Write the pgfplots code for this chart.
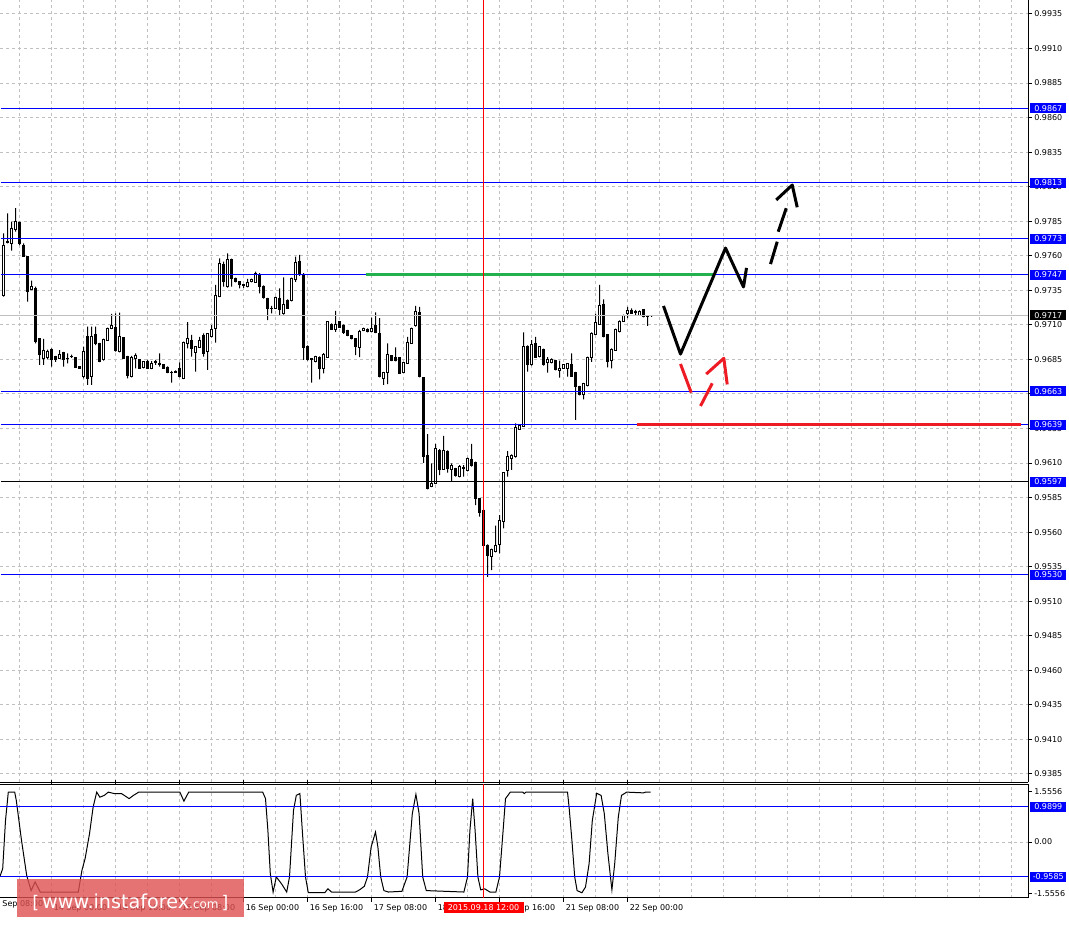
\documentclass[border=0pt]{standalone}
\usepackage{fontspec}
\setmainfont{DejaVu Sans}
\usepackage{pgfplots}
\usepackage{pgfplotstable}
\pgfplotsset{compat=1.18}

\definecolor{mtblue}{RGB}{0,0,255}
\definecolor{mtgrid}{RGB}{192,192,192}
\definecolor{mtred}{RGB}{237,28,36}
\definecolor{mtgreen}{RGB}{34,177,76}
\definecolor{wmred}{RGB}{222,80,80}

% hourly candles, i = bar number from 14 Sep 00:00
\pgfplotstableread{
i O H L C
-12 .97309 .97763 .97304 .97678
-11 .97700 .97907 .97690 .97698
-10 .97690 .97847 .97637 .97799
-9 .97787 .97944 .97774 .97847
-8 .97839 .97847 .97678 .97690
-7 .97678 .97690 .97594 .97598
-6 .97594 .97594 .97268 .97340
-5 .97357 .97420 .97352 .97376
-4 .97364 .97376 .96967 .96978
-3 .96998 .97005 .96810 .96889
-2 .96858 .96998 .96810 .96913
-1 .96862 .96920 .96850 .96909
0 .96923 .96930 .96797 .96851
1 .96870 .96875 .96833 .96846
2 .96858 .96918 .96855 .96889
3 .96901 .96905 .96797 .96846
4 .96860 .96894 .96822 .96856
5 .96872 .96885 .96862 .96868
6 .96862 .96866 .96788 .96793
7 .96797 .96800 .96782 .96786
8 .96725 .96942 .96713 .96906
9 .97014 .97087 .96665 .96713
10 .96725 .97087 .96665 .97014
11 .97027 .97087 .96954 .96967
12 .96967 .96970 .96830 .96833
13 .96846 .97000 .96841 .96996
14 .96990 .97080 .96985 .97075
15 .97075 .97179 .97070 .97092
16 .97080 .97184 .96906 .96913
17 .96906 .97188 .96901 .97014
18 .97007 .97012 .96855 .96858
19 .96870 .96875 .96713 .96732
20 .96725 .96875 .96720 .96862
21 .96858 .96894 .96786 .96875
22 .96846 .96850 .96782 .96786
23 .96790 .96838 .96785 .96833
24 .96838 .96846 .96782 .96786
25 .96786 .96838 .96780 .96817
26 .96830 .96846 .96810 .96834
27 .96817 .96894 .96797 .96813
28 .96810 .96815 .96782 .96786
29 .96790 .96800 .96750 .96754
30 .96756 .96768 .96682 .96752
31 .96757 .96770 .96752 .96766
32 .96781 .96829 .96720 .96725
33 .96713 .96978 .96708 .96974
34 .96967 .97119 .96930 .96998
35 .96990 .97027 .96870 .96930
36 .96899 .96945 .96761 .96942
37 .96938 .97014 .96935 .96990
38 .97022 .97039 .96870 .96894
39 .96906 .97040 .96774 .97034
40 .97014 .97099 .97010 .97068
41 .97075 .97389 .96971 .97311
42 .97304 .97582 .97300 .97546
43 .97540 .97557 .97376 .97412
44 .97376 .97618 .97370 .97574
45 .97574 .97580 .97376 .97437
46 .97437 .97442 .97408 .97412
47 .97412 .97416 .97364 .97389
48 .97390 .97395 .97368 .97388
49 .97376 .97432 .97372 .97405
50 .97412 .97435 .97408 .97430
51 .97410 .97485 .97405 .97475
52 .97468 .97475 .97328 .97381
53 .97381 .97385 .97290 .97296
54 .97292 .97296 .97135 .97220
55 .97222 .97237 .97184 .97218
56 .97220 .97305 .97215 .97299
57 .97292 .97364 .97171 .97213
58 .97179 .97444 .97175 .97251
59 .97280 .97285 .97215 .97220
60 .97275 .97442 .97270 .97437
61 .97430 .97594 .97412 .97550
62 .97562 .97606 .97455 .97461
63 .97468 .97475 .96846 .96938
64 .96947 .96952 .96841 .96853
65 .96855 .96860 .96682 .96852
66 .96833 .96875 .96828 .96870
67 .96867 .96872 .96706 .96781
68 .96786 .96895 .96749 .96887
69 .96867 .97125 .96862 .97121
70 .97106 .97110 .97063 .97068
71 .97063 .97202 .97050 .97106
72 .97123 .97128 .97078 .97082
73 .97099 .97104 .97034 .97043
74 .97058 .97063 .97018 .97022
75 .97022 .97026 .96995 .96998
76 .96998 .97002 .96882 .96942
77 .96938 .97063 .96867 .97050
78 .97058 .97080 .97055 .97075
79 .97070 .97075 .97045 .97050
80 .97050 .97152 .97045 .97075
81 .97092 .97191 .97040 .97043
82 .97039 .97148 .96720 .96725
83 .96713 .96760 .96665 .96754
84 .96754 .96967 .96672 .96887
85 .96875 .96880 .96838 .96841
86 .96862 .96938 .96836 .96841
87 .96862 .96866 .96745 .96749
88 .96754 .96830 .96750 .96826
89 .96822 .97014 .96818 .96974
90 .96967 .97080 .96962 .97075
91 .97092 .97237 .97088 .97200
92 .97188 .97231 .96720 .96725
93 .96718 .96722 .96102 .96146
94 .96158 .96310 .95910 .95917
95 .95929 .96098 .95925 .95953
96 .95953 .96238 .95948 .96207
97 .96194 .96200 .96013 .96055
98 .96055 .96296 .96050 .96194
99 .96187 .96192 .96030 .96062
100 .96050 .96098 .95970 .96079
101 .96062 .96066 .96001 .96013
102 .96001 .96086 .95997 .96074
103 .96065 .96086 .96001 .96060
104 .96045 .96140 .96040 .96134
105 .96127 .96238 .96075 .96079
106 .96102 .96110 .95796 .95845
107 .95840 .95845 .95712 .95744
108 .95760 .95765 .95500 .95507
109 .95507 .95512 .95277 .95429
110 .95422 .95480 .95326 .95476
111 .95458 .95647 .95454 .95507
112 .95514 .95724 .95447 .95688
113 .95676 .96035 .95628 .96030
114 .96045 .96187 .96001 .96151
115 .96134 .96162 .96050 .96158
116 .96146 .96388 .96140 .96359
117 .96344 .96380 .96340 .96375
118 .96368 .97046 .96364 .96942
119 .96947 .96952 .96761 .96810
120 .96810 .96990 .96805 .96959
121 .96967 .97014 .96862 .96867
122 .96870 .96946 .96865 .96942
123 .96923 .96928 .96805 .96810
124 .96829 .96867 .96754 .96846
125 .96826 .96857 .96822 .96853
126 .96841 .96846 .96770 .96774
127 .96768 .96841 .96718 .96786
128 .96786 .96815 .96782 .96810
129 .96786 .96820 .96725 .96817
130 .96810 .96894 .96725 .96730
131 .96754 .96760 .96412 .96653
132 .96653 .96658 .96590 .96598
133 .96598 .96680 .96561 .96677
134 .96660 .96870 .96655 .96867
135 .96867 .97045 .96833 .97039
136 .97032 .97179 .97028 .97119
137 .97104 .97389 .97100 .97239
138 .97251 .97285 .97010 .97014
139 .97027 .97032 .96793 .96833
140 .96841 .96930 .96786 .96925
141 .96918 .97072 .96914 .97068
142 .97050 .97132 .97046 .97128
143 .97128 .97175 .97124 .97171
144 .97179 .97231 .97148 .97202
145 .97202 .97220 .97180 .97184
146 .97197 .97208 .97171 .97193
147 .97171 .97205 .97168 .97200
148 .97208 .97212 .97155 .97164
149 .97162 .97166 .97092 .97159
150 .97164 .97171 .97157 .97164
}\candles

\tikzset{
  lvl/.style={anchor=west, xshift=1.5pt, fill=mtblue, text=white,
    font=\fontsize{6}{7}\selectfont, minimum width=27pt,
    minimum height=7.5pt, inner sep=0pt},
  gridsty/.style={mtgrid, dash pattern=on 2.25pt off 2.25pt, line width=0.75pt},
  hline/.style={color=mtblue, line width=0.75pt},
}
\pgfplotsset{
  mainax/.style={scale only axis, width=771pt, height=586.5pt,
    xmin=-12.875, xmax=244.125, ymin=0.93792, ymax=0.99451,
    at={(0pt,108pt)}, anchor=south west},
  indax/.style={scale only axis, width=771pt, height=85.05pt,
    xmin=-12.875, xmax=244.125, ymin=-1.549, ymax=1.607,
    at={(0pt,21.2pt)}, anchor=south west},
}

\begin{document}
\begin{tikzpicture}
\useasboundingbox (0,0) rectangle (801.75pt,694.5pt);

% main panel: grid and price scale
\begin{axis}[mainax,
  axis x line*=bottom, axis y line*=right,
  axis line style={black, line width=0.75pt},
  xtick={-8,0,...,240}, xticklabels={}, xtick style={draw=none},
  ytick={0.9385,0.9410,0.9435,0.9460,0.9485,0.9510,0.9535,0.9560,0.9585,0.9610,0.9635,0.9660,0.9685,0.9710,0.9735,0.9760,0.9785,0.9810,0.9835,0.9860,0.9885,0.9910,0.9935},
  yticklabels={0.9385,0.9410,0.9435,0.9460,0.9485,0.9510,0.9535,0.9560,0.9585,0.9610,0.9635,0.9660,0.9685,0.9710,0.9735,0.9760,0.9785,0.9810,0.9835,0.9860,0.9885,0.9910,0.9935},
  yticklabel pos=right,
  yticklabel style={font=\fontsize{6}{7}\selectfont, anchor=west, inner sep=0pt, xshift=1.5pt},
  tick align=outside, major tick length=3pt,
  ytick style={black, line width=0.75pt},
  xmajorgrids, ymajorgrids, major grid style={gridsty},
]
\addplot[draw=none, mark=none] coordinates {(0,0.97)};
\end{axis}

% wicks: low to high
\begin{axis}[mainax, hide axis, ybar stacked, bar width=0.75pt]
\addplot[draw=none, fill=none] table[x=i, y=L] {\candles};
\addplot[draw=none, fill=black] table[x=i, y expr={\thisrow{H}-\thisrow{L}}] {\candles};
\end{axis}

% candle bodies
\begin{axis}[mainax, hide axis, ybar stacked, bar width=1.5pt]
\addplot[draw=none, fill=none] table[x=i, y expr={min(\thisrow{O},\thisrow{C})}] {\candles};
\addplot[draw=black, fill=white, line width=0.75pt] table[x=i, y expr={max(\thisrow{C}-\thisrow{O},0)}] {\candles};
\addplot[draw=black, fill=black, line width=0.75pt] table[x=i, y expr={max(\thisrow{O}-\thisrow{C},0)}] {\candles};
\end{axis}

% levels (at the pixel rows where they are drawn) and drawn arrows
\begin{axis}[mainax, hide axis, clip=false]
\addplot[color=mtgrid, line width=0.75pt] coordinates {(-12.875,0.97168) (244.125,0.97168)};
\addplot[hline] coordinates {(-12.6,0.98666) (244.125,0.98666)};
\addplot[hline] coordinates {(-12.6,0.98130) (244.125,0.98130)};
\addplot[hline] coordinates {(-12.6,0.97725) (244.125,0.97725)};
\addplot[hline] coordinates {(-12.6,0.97464) (244.125,0.97464)};
\addplot[hline] coordinates {(-12.6,0.96618) (244.125,0.96618)};
\addplot[hline] coordinates {(-12.6,0.96379) (244.125,0.96379)};
\addplot[hline] coordinates {(-12.6,0.95293) (244.125,0.95293)};
\addplot[color=black, line width=0.75pt] coordinates {(-12.6,0.95966) (244.125,0.95966)};
\addplot[color=mtgreen, line width=2.25pt] coordinates {(78.5,0.97464) (165.25,0.97464)};
\addplot[color=mtred, line width=2.25pt] coordinates {(146.25,0.96379) (242.25,0.96379)};
\addplot[color=red, line width=0.75pt] coordinates {(108,0.93792) (108,0.99451)};
% solid black path
\addplot[color=black, line width=2.25pt, line join=round] coordinates {(153,0.97237) (157.25,0.96889) (168.5,0.97656) (173,0.97374) (173.75,0.97512)};
% dashed black arrow
\addplot[color=black, line width=2.25pt] coordinates {(179.75,0.97540) (181.43,0.97702)};
\addplot[color=black, line width=2.25pt] coordinates {(181.68,0.97774) (183.68,0.97944)};
\addplot[color=black, line width=2.25pt, line join=round] coordinates {(181.18,0.98004) (185.18,0.98112) (186.43,0.97951)};
% dashed red arrow
\addplot[color=mtred, line width=2.25pt] coordinates {(157.25,0.96817) (159.93,0.96609)};
\addplot[color=mtred, line width=2.25pt] coordinates {(162.25,0.96513) (165.18,0.96677)};
\addplot[color=mtred, line width=2.25pt, line join=round] coordinates {(163.68,0.96744) (168.08,0.96858) (168.93,0.96669)};
% price labels
\node[lvl] at (axis cs:244.125,0.98666) {0.9867};
\node[lvl] at (axis cs:244.125,0.98130) {0.9813};
\node[lvl] at (axis cs:244.125,0.97725) {0.9773};
\node[lvl] at (axis cs:244.125,0.97464) {0.9747};
\node[lvl, fill=black] at (axis cs:244.125,0.97168) {0.9717};
\node[lvl] at (axis cs:244.125,0.96618) {0.9663};
\node[lvl] at (axis cs:244.125,0.96379) {0.9639};
\node[lvl] at (axis cs:244.125,0.95966) {0.9597};
\node[lvl] at (axis cs:244.125,0.95293) {0.9530};
\end{axis}

% indicator panel
\begin{axis}[indax, clip=false,
  axis x line*=box, axis y line*=right,
  axis line style={black, line width=0.75pt},
  xtick={0,16,...,144},
  xticklabels={14 Sep 00:00,14 Sep 16:00,15 Sep 08:00,16 Sep 00:00,16 Sep 16:00,17 Sep 08:00,18 Sep 00:00,18 Sep 16:00,21 Sep 08:00,22 Sep 00:00},
  minor xtick={-8,8,24,40,56,72,88,104,120,136,152,160,168,176,184,192,200,208,216,224,232,240},
  xticklabel style={font=\fontsize{6}{7}\selectfont, anchor=west, inner sep=0pt, xshift=1.5pt, yshift=-5.3pt},
  ytick={0}, yticklabels={0.00},
  extra y ticks={1.40,-1.426}, extra y tick labels={1.5556,-1.5556},
  extra y tick style={grid=none},
  yticklabel pos=right,
  yticklabel style={font=\fontsize{6}{7}\selectfont, anchor=west, inner sep=0pt, xshift=1.5pt},
  tick align=outside, major tick length=3pt, minor tick length=0pt,
  tick style={black, line width=0.75pt},
  xmajorgrids, xminorgrids, ymajorgrids,
  major grid style={gridsty}, minor grid style={gridsty},
]
\addplot[color=black, line width=0.75pt] coordinates {
(-12.875,-0.95) (-12.2,-0.74) (-11.5,0.6) (-10.8,1.39) (-9.2,1.39) (-8.8,1.16) (-7.5,0.05)
(-6.2,-0.93) (-5.1,-1.35) (-4.1,-1.11) (-2.8,-1.39) (6.7,-1.39) (7.6,-0.79) (8.4,-0.46)
(9.5,0.23) (10.4,0.97) (11.3,1.39) (12.1,1.25) (13.2,1.30) (14.2,1.39) (15.7,1.35)
(17.5,1.35) (19.4,1.21) (20.5,1.30) (21.8,1.39) (32.1,1.39) (33.1,1.14) (34.3,1.39)
(52.8,1.39) (53.5,1.21) (54.1,0.32) (54.7,-0.88) (55.4,-1.39) (56.2,-0.97) (57.5,-1.16)
(58.8,-1.39) (59.5,-0.97) (60.5,0.88) (61.2,1.30) (62.1,1.35) (62.7,0.32) (63.5,-0.97)
(64.2,-1.41) (68.3,-1.41) (69.1,-1.30) (70.0,-1.39) (76.0,-1.39) (77.0,-1.33) (78.2,-1.23)
(79.0,-0.97) (79.9,-0.14) (81.0,0.28) (81.6,-0.14) (82.3,-0.97) (83.1,-1.35) (84.2,-1.39)
(87.6,-1.37) (88.9,-0.97) (90.2,0.79) (91.1,1.33) (91.9,0.79) (92.8,-0.97) (93.7,-1.35)
(103.1,-1.39) (104.0,-0.97) (104.6,0.32) (105.3,1.21) (105.9,0.32) (106.6,-0.97) (107.3,-1.33)
(108.3,-1.30) (109.6,-1.39) (111.1,-1.39) (112.0,-0.97) (112.9,0.32) (113.5,1.21) (114.7,1.39)
(117.8,1.39) (118.2,1.35) (118.6,1.39) (129.0,1.39) (129.4,0.97) (130.1,0.05) (130.8,-0.97)
(131.4,-1.35) (132.6,-1.41) (133.5,-1.25) (134.4,-0.60) (135.2,0.60) (136.3,1.36) (137.4,1.30)
(138.2,0.79) (139.1,-0.32) (140.1,-1.33) (140.8,-0.60) (141.7,0.70) (142.5,1.30) (143.8,1.39)
(148.0,1.37) (148.5,1.39) (149.8,1.39)};
\addplot[hline] coordinates {(-12.875,0.9899) (244.125,0.9899)};
\addplot[hline] coordinates {(-12.875,-0.9585) (244.125,-0.9585)};
\node[font=\fontsize{6}{7}\selectfont, anchor=west, inner sep=0pt, xshift=1.5pt, yshift=-5.3pt]
  at (axis cs:-16,-1.549) {11 Sep 08:00};
\end{axis}

% indicator overlay: crosshair and labels
\begin{axis}[indax, hide axis, clip=false]
\addplot[color=red, line width=0.75pt] coordinates {(108,-1.549) (108,1.607)};
\node[lvl] at (axis cs:244.125,0.9899) {0.9899};
\node[lvl] at (axis cs:244.125,-0.9585) {-0.9585};
\node[fill=red, text=white, font=\fontsize{6}{7}\selectfont, minimum width=60pt,
  minimum height=8pt, inner sep=0pt, anchor=north, yshift=-3pt]
  at (axis cs:108,-1.549) {2015.09.18 12:00};
\end{axis}

% watermark
\fill[wmred, opacity=0.8] (12.75pt,6.75pt) rectangle (182.85pt,35.4pt);
\node[text=white, anchor=base] at (97.8pt,13.5pt)
  {{\fontsize{13}{13}\selectfont [\,}{\fontsize{14.4}{14}\selectfont www.instaforex}{\fontsize{9}{9}\selectfont .com}{\fontsize{13}{13}\selectfont\,]}};
\end{tikzpicture}
\end{document}
